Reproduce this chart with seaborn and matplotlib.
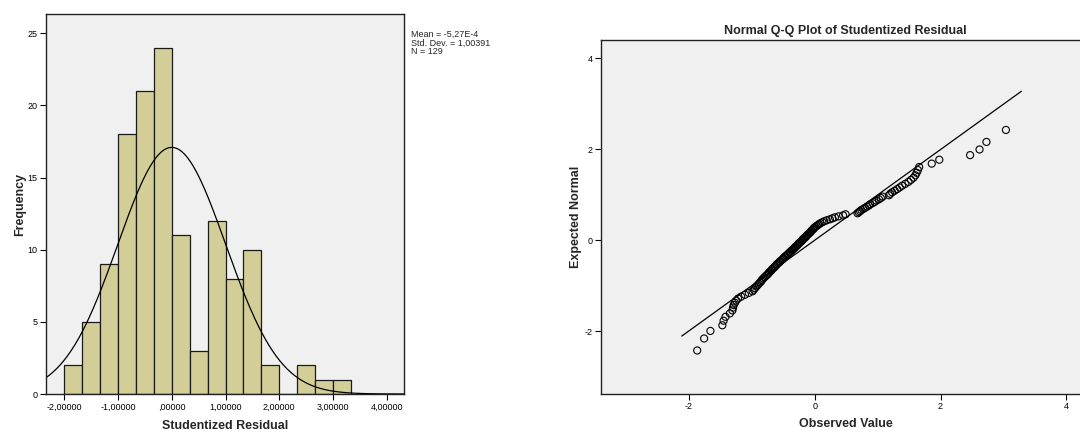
import numpy as np
import pandas as pd
import matplotlib
matplotlib.use("Agg")
import matplotlib.pyplot as plt
import seaborn as sns
from statistics import NormalDist

# ---------------- data ----------------
residuals = [
    -1.87, -1.76,
    -1.66, -1.47, -1.45, -1.42, -1.35,
    -1.31, -1.30, -1.29, -1.27, -1.25, -1.22, -1.17, -1.11, -1.05,
    -0.99, -0.97, -0.95, -0.93, -0.91, -0.89, -0.87, -0.85, -0.84,
    -0.82, -0.80, -0.78, -0.76, -0.74, -0.73, -0.71, -0.69, -0.68,
    -0.66, -0.64, -0.63, -0.61, -0.60, -0.58, -0.56, -0.55, -0.53,
    -0.51, -0.50, -0.48, -0.47, -0.45, -0.43, -0.42, -0.40, -0.39,
    -0.37, -0.36, -0.34,
    -0.33, -0.31, -0.30, -0.28, -0.27, -0.26, -0.24, -0.23, -0.21,
    -0.20, -0.19, -0.17, -0.16, -0.14, -0.13, -0.12, -0.10, -0.09,
    -0.07, -0.06, -0.05, -0.03, -0.02, -0.01,
    0.01, 0.03, 0.05, 0.07, 0.09, 0.12, 0.15, 0.19, 0.24, 0.28, 0.32,
    0.38, 0.45, 0.49,
    0.68, 0.70, 0.72, 0.74, 0.77, 0.80, 0.83, 0.86, 0.88, 0.92, 0.95, 0.98,
    1.02, 1.05, 1.08, 1.18, 1.20, 1.23, 1.27, 1.31,
    1.35, 1.39, 1.44, 1.49, 1.53, 1.57, 1.60, 1.62, 1.64, 1.66,
    1.86, 1.98,
    2.47, 2.62,
    2.73,
    3.04,
]
stat_mean = -5.27e-4
stat_sd = 1.00391
stat_lines = ["Mean = -5,27E-4", "Std. Dev. = 1,00391", "N = 129"]

hist_bin_edges = [-2.0, -5/3, -4/3, -1.0, -2/3, -1/3, 0.0, 1/3, 2/3, 1.0,
                  4/3, 5/3, 2.0, 7/3, 8/3, 3.0, 10/3]
hist_xticks = [-2, -1, 0, 1, 2, 3, 4]
hist_xticklabels = ["-2,00000", "-1,00000", ",00000", "1,00000",
                    "2,00000", "3,00000", "4,00000"]
hist_yticks = [0, 5, 10, 15, 20, 25]
qq_ticks = [-2, 0, 2, 4]

BAR = "#D3CE97"
BG = "#F0F0F0"

sns.set_theme(style="white")
plt.rcParams["font.family"] = ["Liberation Sans", "DejaVu Sans"]
plt.rcParams["axes.unicode_minus"] = False

fig = plt.figure(figsize=(10.8, 4.32), dpi=100)
W, H = 1080, 432

def px_axes(l, r, t, b):
    return fig.add_axes([l / W, 1 - b / H, (r - l) / W, (b - t) / H])

# ---------------- histogram ----------------
ax1 = px_axes(46, 404, 14, 394)
ax1.set_facecolor(BG)
df = pd.DataFrame({"Studentized Residual": residuals})
sns.histplot(data=df, x="Studentized Residual", bins=hist_bin_edges, stat="count",
             color=BAR, alpha=1.0, edgecolor="#1a1a1a", linewidth=0.9, ax=ax1)
ax1.set_xlim(-2.34, 4.32)
ax1.set_ylim(0, 26.33)
n = len(residuals)
bw = 1 / 3
xs = np.linspace(-2.34, 4.32, 400)
ys = n * bw * np.array([NormalDist(stat_mean, stat_sd).pdf(v) for v in xs])
sns.lineplot(x=xs, y=ys, color="black", linewidth=0.9, ax=ax1)
ax1.set_xticks(hist_xticks)
ax1.set_xticklabels(hist_xticklabels)
ax1.set_yticks(hist_yticks)
ax1.set_xlabel("Studentized Residual", fontsize=9, fontweight="bold", labelpad=6)
ax1.set_ylabel("Frequency", fontsize=9, fontweight="bold", labelpad=1)
ax1.tick_params(axis="both", which="both", direction="out", length=4, width=0.8,
                labelsize=6.5, colors="black", pad=2, bottom=True, left=True)
for s in ax1.spines.values():
    s.set_color("#222222")
    s.set_linewidth(1.0)
fig.text(411 / W, 1 - 30 / H, "\n".join(stat_lines), fontsize=6.5,
         va="top", ha="left", linespacing=0.95)

# ---------------- Q-Q plot ----------------
ax2 = px_axes(601, 1090, 40, 394)
ax2.set_facecolor(BG)
obs = sorted(residuals)
expected = [NormalDist().inv_cdf(i / (n + 1)) for i in range(1, n + 1)]
qq = pd.DataFrame({"Observed Value": obs, "Expected Normal": expected})
rng = max(obs) - min(obs)
line_x = np.array([min(obs) - 0.05 * rng, max(obs) + 0.05 * rng])
line_y = (line_x - stat_mean) / stat_sd
sns.lineplot(x=line_x, y=line_y, color="black", linewidth=0.9, ax=ax2)
sns.scatterplot(data=qq, x="Observed Value", y="Expected Normal", marker="o",
                s=26, facecolor="none", edgecolor="black", linewidth=0.8, ax=ax2)
ax2.set_xlim(-3.40, 4.377)
ax2.set_ylim(-3.38, 4.40)
ax2.set_xticks(qq_ticks)
ax2.set_yticks(qq_ticks)
ax2.set_xlabel("Observed Value", fontsize=9, fontweight="bold", labelpad=5)
ax2.set_ylabel("Expected Normal", fontsize=9, fontweight="bold", labelpad=2)
ax2.set_title("Normal Q-Q Plot of Studentized Residual", fontsize=9,
              fontweight="bold", pad=4)
ax2.tick_params(axis="both", which="both", direction="out", length=4, width=0.8,
                labelsize=6.5, colors="black", pad=2, bottom=True, left=True)
for s in ax2.spines.values():
    s.set_color("#222222")
    s.set_linewidth(1.0)

fig.savefig("out.png", dpi=100, facecolor="white")
